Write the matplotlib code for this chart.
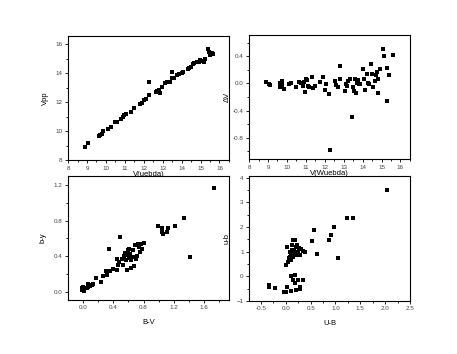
import matplotlib
matplotlib.use('Agg')
import matplotlib.pyplot as plt
import matplotlib.ticker as ticker
import numpy as np

plt.rcParams['font.family'] = ['Liberation Sans', 'DejaVu Sans']

# V (Wuebda) vs V (pp)
v_wb = [8.89, 9.03, 9.64, 9.69, 9.78, 9.87, 10.10, 10.26, 10.49, 10.61, 10.81, 10.90,
        10.97, 11.08, 11.34, 11.47, 11.79, 11.91, 12.00, 12.12, 12.27, 12.30, 12.62,
        12.71, 12.80, 12.84, 12.94, 13.12, 13.24, 13.39, 13.51, 13.51, 13.60, 13.74,
        13.87, 14.01, 14.08, 14.31, 14.40, 14.49, 14.58, 14.67, 14.81, 14.90, 14.99,
        15.11, 15.20, 15.25, 15.38, 15.47, 15.52, 15.61, 15.68]
v_pp = [8.92, 9.15, 9.65, 9.72, 9.77, 10.00, 10.16, 10.30, 10.60, 10.64, 10.83, 10.94,
        11.10, 11.20, 11.33, 11.56, 11.84, 11.95, 12.14, 12.18, 12.48, 13.36, 12.71,
        12.78, 12.83, 12.60, 13.06, 13.31, 13.36, 13.38, 13.63, 14.05, 13.68, 13.86,
        13.91, 13.98, 14.09, 14.25, 14.32, 14.44, 14.60, 14.67, 14.78, 14.78, 14.90,
        14.83, 14.78, 14.94, 15.66, 15.47, 15.24, 15.36, 15.29]

# V vs delta V
dv_x = [8.88, 9.05, 9.10, 9.63, 9.66, 9.75, 9.75, 9.87, 10.10, 10.24, 10.49, 10.63,
        10.77, 10.84, 10.85, 10.89, 10.98, 11.00, 11.06, 11.10, 11.17, 11.33, 11.38,
        11.50, 11.77, 11.89, 12.00, 12.08, 12.20, 12.29, 12.55, 12.59, 12.68, 12.78,
        12.82, 13.08, 13.13, 13.20, 13.25, 13.34, 13.43, 13.48, 13.55, 13.60, 13.66,
        13.69, 13.76, 13.80, 13.87, 14.00, 14.08, 14.13, 14.22, 14.27, 14.36, 14.43,
        14.48, 14.53, 14.65, 14.69, 14.74, 14.80, 14.83, 14.92, 15.09, 15.13, 15.27,
        15.30, 15.41, 15.58]
dv_y = [0.015, -0.015, -0.03, -0.06, 0.0, 0.04, -0.02, -0.08, -0.015, 0.01, -0.05, 0.02,
        0.0, -0.01, -0.04, 0.02, -0.12, 0.06, 0.05, -0.04, -0.05, 0.10, -0.07,
        -0.04, 0.015, 0.09, -0.10, -0.015, -0.15, -0.98, 0.03, -0.02, -0.05, 0.25,
        0.06, -0.11, -0.01, -0.04, 0.03, 0.07, -0.50, -0.05, -0.11, 0.07, -0.14,
        0.0, 0.05, -0.015, -0.015, 0.21, 0.07, -0.09, 0.14, 0.01, -0.01, 0.28,
        0.14, -0.05, 0.04, 0.12, 0.17, -0.14, 0.06, 0.21, 0.50, 0.40, -0.26,
        0.22, 0.12, 0.41]

# B-V vs b-y
bv = [-0.018, 0.0, 0.004, -0.018, 0.013, 0.057, 0.07, 0.093, 0.115, 0.137, 0.07, 0.167,
      0.238, 0.269, 0.30, 0.322, 0.348, 0.357, 0.392, 0.445, 0.454, 0.458, 0.48, 0.489,
      0.511, 0.524, 0.542, 0.555, 0.569, 0.577, 0.586, 0.599, 0.608, 0.613, 0.621,
      0.63, 0.635, 0.657, 0.666, 0.674, 0.687, 0.70, 0.718, 0.732, 0.745, 0.754,
      0.762, 0.776, 0.807, 0.996, 1.04, 1.049, 1.062, 1.106, 1.119, 1.216, 1.335,
      1.415, 1.723, 0.0, 0.01, 0.62, 0.60, 0.59]
by = [0.045, 0.03, 0.056, 0.019, 0.008, 0.045, 0.087, 0.064, 0.075, 0.087, 0.05, 0.15,
      0.105, 0.18, 0.237, 0.188, 0.485, 0.226, 0.252, 0.245, 0.369, 0.30, 0.335, 0.61,
      0.365, 0.30, 0.40, 0.44, 0.357, 0.245, 0.425, 0.47, 0.40, 0.478, 0.376,
      0.357, 0.263, 0.47, 0.395, 0.29, 0.527, 0.365, 0.40, 0.534, 0.508, 0.45,
      0.534, 0.478, 0.553, 0.745, 0.67, 0.715, 0.647, 0.677, 0.715, 0.741, 0.828,
      0.388, 1.166, 0.04, 0.02, 0.42, 0.41, 0.43]

# U-B vs u-b
ub_big = [-0.333, -0.333, -0.22, -0.033, 0.013, 0.027, 0.10, 0.113, 0.147, 0.18, 0.193,
          0.213, 0.247, 0.28, 0.293, 0.347, 0.013, 0.047, 0.067, 0.093, 0.113, 0.127,
          0.147, 0.16, 0.167, 0.18, 0.20, 0.213, 0.233, 0.247, 0.26, 0.28, 0.313,
          0.347, 0.38, 0.027, 0.113, 0.147, 0.08, 0.133, 0.533, 0.567, 0.627, 0.88,
          0.913, 0.967, 1.06, 1.233, 1.347, 2.047]
ub_small = [-0.35, -0.45, -0.46, -0.62, -0.62, -0.42, -0.595, -0.01, -0.15, 0.05, -0.26,
            -0.55, -0.15, -0.51, -0.45, -0.15, 0.46, 0.59, 0.73, 0.80, 0.93, 1.07,
            0.80, 0.90, 1.07, 1.47, 1.20, 0.86, 1.27, 1.00, 1.14, 0.86, 1.10,
            1.04, 1.00, 1.20, 0.66, 1.47, 1.00, 1.27, 1.43, 1.88, 0.90, 1.47,
            1.68, 1.99, 0.73, 2.38, 2.35, 3.50]

fig = plt.figure(figsize=(4.57, 3.54), dpi=100)
ax1 = fig.add_axes([0.149, 0.548, 0.352, 0.350])
ax2 = fig.add_axes([0.545, 0.551, 0.352, 0.350])
ax3 = fig.add_axes([0.149, 0.153, 0.352, 0.350])
ax4 = fig.add_axes([0.545, 0.150, 0.352, 0.353])

mk = dict(marker='s', s=5, color='black', linewidths=0)

ax1.scatter(v_wb, v_pp, **mk)
ax1.set_xlim(8, 16.5)
ax1.set_ylim(8, 16.55)
ax1.xaxis.set_major_locator(ticker.MultipleLocator(1))
ax1.xaxis.set_minor_locator(ticker.MultipleLocator(0.5))
ax1.yaxis.set_major_locator(ticker.MultipleLocator(2))
ax1.yaxis.set_minor_locator(ticker.MultipleLocator(1))
ax1.set_xlabel('V(uebda)', fontsize=5.5, labelpad=0)
ax1.set_ylabel('Vpp', fontsize=5.5, labelpad=5)

ax2.scatter(dv_x, dv_y, **mk)
ax2.set_xlim(8, 16.5)
ax2.set_ylim(-1.11, 0.71)
ax2.xaxis.set_major_locator(ticker.MultipleLocator(1))
ax2.xaxis.set_minor_locator(ticker.MultipleLocator(0.5))
ax2.yaxis.set_major_locator(ticker.MultipleLocator(0.4))
ax2.yaxis.set_minor_locator(ticker.MultipleLocator(0.2))
ax2.yaxis.set_major_formatter(ticker.FormatStrFormatter('%.1f'))
ax2.set_xlabel('V(Wuebda)', fontsize=5.5, labelpad=0)
ax2.set_ylabel('ΔV', fontsize=5.5, labelpad=1)

ax3.scatter(bv, by, **mk)
ax3.set_xlim(-0.195, 1.925)
ax3.set_ylim(-0.094, 1.305)
ax3.xaxis.set_major_locator(ticker.MultipleLocator(0.4))
ax3.xaxis.set_minor_locator(ticker.MultipleLocator(0.2))
ax3.yaxis.set_major_locator(ticker.MultipleLocator(0.4))
ax3.yaxis.set_minor_locator(ticker.MultipleLocator(0.2))
ax3.xaxis.set_major_formatter(ticker.FormatStrFormatter('%.1f'))
ax3.yaxis.set_major_formatter(ticker.FormatStrFormatter('%.1f'))
ax3.set_xlabel('B-V', fontsize=5.5, labelpad=6)
ax3.set_ylabel('b-y', fontsize=5.5, labelpad=5)

ax4.scatter(ub_big, ub_small, **mk)
ax4.set_xlim(-0.74, 2.5)
ax4.set_ylim(-1, 4.07)
ax4.xaxis.set_major_locator(ticker.MultipleLocator(0.5))
ax4.xaxis.set_minor_locator(ticker.MultipleLocator(0.25))
ax4.yaxis.set_major_locator(ticker.MultipleLocator(1))
ax4.yaxis.set_minor_locator(ticker.MultipleLocator(0.5))
ax4.xaxis.set_major_formatter(ticker.FormatStrFormatter('%.1f'))
ax4.set_xlabel('U-B', fontsize=5.5, labelpad=6)
ax4.set_ylabel('u-b', fontsize=5.5, labelpad=4)

for ax in (ax1, ax2, ax3, ax4):
    ax.tick_params(which='major', length=2.5, width=0.6, labelsize=4.5, pad=1.5,
                   labelcolor='#444444')
    ax.tick_params(which='minor', length=1.5, width=0.6)
    for sp in ax.spines.values():
        sp.set_linewidth(0.8)

fig.savefig('out.png', dpi=100)
